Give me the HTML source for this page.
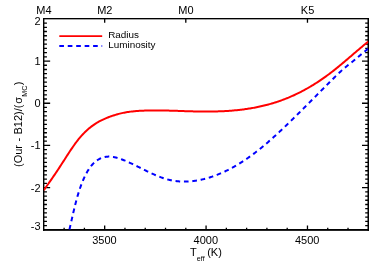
<!DOCTYPE html>
<html><head><meta charset="utf-8"><title>plot</title>
<style>
html,body{margin:0;padding:0;background:#fff;}
body{width:374px;height:267px;overflow:hidden;position:relative;}
svg{display:block;position:absolute;left:0;top:0;}
svg.t{filter:grayscale(1);}
text{font-family:"Liberation Sans",sans-serif;font-size:10px;fill:#000;}
</style></head><body>
<svg width="374" height="267" viewBox="0 0 374 267">
<defs><clipPath id="c"><rect x="43.85" y="18.85" width="324.45" height="210.95"/></clipPath></defs>
<rect width="374" height="267" fill="#fff"/>
<path d="M64.13,229.80V227.70M84.41,229.80V227.70M104.68,229.80V225.60M124.96,229.80V227.70M145.24,229.80V227.70M165.52,229.80V227.70M185.80,229.80V227.70M206.07,229.80V225.60M226.35,229.80V227.70M246.63,229.80V227.70M266.91,229.80V227.70M287.19,229.80V227.70M307.47,229.80V225.60M327.74,229.80V227.70M348.02,229.80V227.70M104.68,18.85V22.85M185.80,18.85V22.85M307.47,18.85V22.85M43.85,225.58H46.95M368.30,225.58H365.20M43.85,221.36H46.95M368.30,221.36H365.20M43.85,217.14H46.95M368.30,217.14H365.20M43.85,212.92H46.95M368.30,212.92H365.20M43.85,208.71H46.95M368.30,208.71H365.20M43.85,204.49H46.95M368.30,204.49H365.20M43.85,200.27H46.95M368.30,200.27H365.20M43.85,196.05H46.95M368.30,196.05H365.20M43.85,191.83H46.95M368.30,191.83H365.20M43.85,187.61H50.15M368.30,187.61H362.00M43.85,183.39H46.95M368.30,183.39H365.20M43.85,179.17H46.95M368.30,179.17H365.20M43.85,174.95H46.95M368.30,174.95H365.20M43.85,170.73H46.95M368.30,170.73H365.20M43.85,166.52H46.95M368.30,166.52H365.20M43.85,162.30H46.95M368.30,162.30H365.20M43.85,158.08H46.95M368.30,158.08H365.20M43.85,153.86H46.95M368.30,153.86H365.20M43.85,149.64H46.95M368.30,149.64H365.20M43.85,145.42H50.15M368.30,145.42H362.00M43.85,141.20H46.95M368.30,141.20H365.20M43.85,136.98H46.95M368.30,136.98H365.20M43.85,132.76H46.95M368.30,132.76H365.20M43.85,128.54H46.95M368.30,128.54H365.20M43.85,124.32H46.95M368.30,124.32H365.20M43.85,120.11H46.95M368.30,120.11H365.20M43.85,115.89H46.95M368.30,115.89H365.20M43.85,111.67H46.95M368.30,111.67H365.20M43.85,107.45H46.95M368.30,107.45H365.20M43.85,103.23H50.15M368.30,103.23H362.00M43.85,99.01H46.95M368.30,99.01H365.20M43.85,94.79H46.95M368.30,94.79H365.20M43.85,90.57H46.95M368.30,90.57H365.20M43.85,86.35H46.95M368.30,86.35H365.20M43.85,82.14H46.95M368.30,82.14H365.20M43.85,77.92H46.95M368.30,77.92H365.20M43.85,73.70H46.95M368.30,73.70H365.20M43.85,69.48H46.95M368.30,69.48H365.20M43.85,65.26H46.95M368.30,65.26H365.20M43.85,61.04H50.15M368.30,61.04H362.00M43.85,56.82H46.95M368.30,56.82H365.20M43.85,52.60H46.95M368.30,52.60H365.20M43.85,48.38H46.95M368.30,48.38H365.20M43.85,44.16H46.95M368.30,44.16H365.20M43.85,39.95H46.95M368.30,39.95H365.20M43.85,35.73H46.95M368.30,35.73H365.20M43.85,31.51H46.95M368.30,31.51H365.20M43.85,27.29H46.95M368.30,27.29H365.20M43.85,23.07H46.95M368.30,23.07H365.20" stroke="#000" stroke-width="1.3" fill="none"/>
<g fill="#000">
<rect x="43.0" y="18.0" width="326.0" height="1.35"/>
<rect x="43.0" y="229.0" width="326.0" height="1.85"/>
<rect x="43.0" y="18.0" width="1.4" height="212.85"/>
<rect x="367.5" y="18.0" width="1.5" height="212.85"/>
</g>
<g fill="none" stroke-linecap="butt" stroke-linejoin="round">
<g clip-path="url(#c)">
<path d="M43.85,190.08 L44.94,188.56 L46.02,187.04 L47.11,185.51 L48.19,183.97 L49.28,182.43 L50.36,180.88 L51.45,179.32 L52.53,177.75 L53.62,176.17 L54.70,174.57 L55.79,172.97 L56.87,171.35 L57.96,169.72 L59.04,168.08 L60.13,166.42 L61.21,164.75 L62.30,163.07 L63.38,161.38 L64.47,159.69 L65.55,158.00 L66.64,156.31 L67.72,154.63 L68.81,152.96 L69.89,151.31 L70.98,149.68 L72.06,148.08 L73.15,146.50 L74.23,144.96 L75.32,143.46 L76.40,141.99 L77.49,140.57 L78.57,139.20 L79.66,137.88 L80.74,136.61 L81.83,135.39 L82.91,134.22 L84.00,133.09 L85.08,132.01 L86.17,130.98 L87.25,129.98 L88.34,129.03 L89.42,128.11 L90.51,127.24 L91.60,126.40 L92.68,125.60 L93.77,124.83 L94.85,124.10 L95.94,123.40 L97.02,122.73 L98.11,122.09 L99.19,121.48 L100.28,120.90 L101.36,120.34 L102.45,119.81 L103.53,119.30 L104.62,118.81 L105.70,118.35 L106.79,117.90 L107.87,117.47 L108.96,117.06 L110.04,116.66 L111.13,116.28 L112.21,115.91 L113.30,115.55 L114.38,115.20 L115.47,114.86 L116.55,114.53 L117.64,114.21 L118.72,113.91 L119.81,113.62 L120.89,113.36 L121.98,113.11 L123.06,112.87 L124.15,112.65 L125.23,112.45 L126.32,112.26 L127.40,112.08 L128.49,111.92 L129.57,111.77 L130.66,111.63 L131.74,111.50 L132.83,111.39 L133.91,111.28 L135.00,111.18 L136.08,111.09 L137.17,111.01 L138.26,110.93 L139.34,110.86 L140.43,110.80 L141.51,110.74 L142.60,110.69 L143.68,110.64 L144.77,110.60 L145.85,110.56 L146.94,110.53 L148.02,110.50 L149.11,110.47 L150.19,110.45 L151.28,110.44 L152.36,110.42 L153.45,110.42 L154.53,110.41 L155.62,110.41 L156.70,110.41 L157.79,110.41 L158.87,110.42 L159.96,110.43 L161.04,110.45 L162.13,110.46 L163.21,110.48 L164.30,110.50 L165.38,110.52 L166.47,110.55 L167.55,110.58 L168.64,110.60 L169.72,110.63 L170.81,110.67 L171.89,110.70 L172.98,110.73 L174.06,110.77 L175.15,110.80 L176.23,110.84 L177.32,110.87 L178.40,110.91 L179.49,110.95 L180.57,110.99 L181.66,111.02 L182.74,111.06 L183.83,111.10 L184.92,111.13 L186.00,111.17 L187.09,111.20 L188.17,111.24 L189.26,111.27 L190.34,111.30 L191.43,111.33 L192.51,111.36 L193.60,111.39 L194.68,111.42 L195.77,111.44 L196.85,111.46 L197.94,111.48 L199.02,111.50 L200.11,111.51 L201.19,111.53 L202.28,111.54 L203.36,111.55 L204.45,111.55 L205.53,111.56 L206.62,111.56 L207.70,111.56 L208.79,111.55 L209.87,111.54 L210.96,111.53 L212.04,111.52 L213.13,111.50 L214.21,111.48 L215.30,111.46 L216.38,111.43 L217.47,111.40 L218.55,111.37 L219.64,111.33 L220.72,111.29 L221.81,111.25 L222.89,111.20 L223.98,111.14 L225.06,111.09 L226.15,111.02 L227.23,110.96 L228.32,110.89 L229.41,110.81 L230.49,110.73 L231.58,110.65 L232.66,110.56 L233.75,110.47 L234.83,110.37 L235.92,110.27 L237.00,110.16 L238.09,110.05 L239.17,109.93 L240.26,109.80 L241.34,109.67 L242.43,109.54 L243.51,109.40 L244.60,109.25 L245.68,109.10 L246.77,108.94 L247.85,108.78 L248.94,108.61 L250.02,108.44 L251.11,108.26 L252.19,108.07 L253.28,107.87 L254.36,107.67 L255.45,107.47 L256.53,107.25 L257.62,107.03 L258.70,106.81 L259.79,106.57 L260.87,106.33 L261.96,106.08 L263.04,105.83 L264.13,105.57 L265.21,105.30 L266.30,105.02 L267.38,104.74 L268.47,104.44 L269.55,104.15 L270.64,103.84 L271.72,103.52 L272.81,103.20 L273.89,102.87 L274.98,102.53 L276.07,102.19 L277.15,101.83 L278.24,101.47 L279.32,101.10 L280.41,100.72 L281.49,100.33 L282.58,99.93 L283.66,99.53 L284.75,99.11 L285.83,98.69 L286.92,98.26 L288.00,97.81 L289.09,97.36 L290.17,96.90 L291.26,96.44 L292.34,95.96 L293.43,95.47 L294.51,94.97 L295.60,94.46 L296.68,93.95 L297.77,93.42 L298.85,92.89 L299.94,92.34 L301.02,91.78 L302.11,91.22 L303.19,90.65 L304.28,90.06 L305.36,89.47 L306.45,88.86 L307.53,88.25 L308.62,87.63 L309.70,87.00 L310.79,86.35 L311.87,85.70 L312.96,85.04 L314.04,84.37 L315.13,83.69 L316.21,83.00 L317.30,82.30 L318.38,81.59 L319.47,80.87 L320.55,80.14 L321.64,79.40 L322.73,78.65 L323.81,77.89 L324.90,77.12 L325.98,76.34 L327.07,75.55 L328.15,74.75 L329.24,73.94 L330.32,73.13 L331.41,72.30 L332.49,71.46 L333.58,70.61 L334.66,69.75 L335.75,68.89 L336.83,68.01 L337.92,67.13 L339.00,66.24 L340.09,65.35 L341.17,64.45 L342.26,63.54 L343.34,62.63 L344.43,61.71 L345.51,60.79 L346.60,59.87 L347.68,58.95 L348.77,58.02 L349.85,57.09 L350.94,56.16 L352.02,55.22 L353.11,54.29 L354.19,53.36 L355.28,52.43 L356.36,51.50 L357.45,50.57 L358.53,49.65 L359.62,48.73 L360.70,47.81 L361.79,46.89 L362.87,45.98 L363.96,45.08 L365.04,44.18 L366.13,43.29 L367.21,42.40 L368.30,41.52" stroke="#ff0000" stroke-width="2"/>
<path d="M68.60,233.09 L69.20,230.57 L69.80,228.00 L70.40,225.40 L71.00,222.76 L71.60,220.12 L72.20,217.48 L72.80,214.85 L73.40,212.25 L74.01,209.69 L74.61,207.19 L75.21,204.75 L75.81,202.39 L76.41,200.12 L77.01,197.94 L77.61,195.85 L78.21,193.84 L78.81,191.91 L79.41,190.05 L80.01,188.27 L80.61,186.57 L81.21,184.93 L81.81,183.36 L82.41,181.85 L83.01,180.40 L83.62,179.02 L84.22,177.69 L84.82,176.41 L85.42,175.19 L86.02,174.03 L86.62,172.91 L87.22,171.84 L87.82,170.83 L88.42,169.86 L89.02,168.93 L89.62,168.05 L90.22,167.22 L90.82,166.43 L91.42,165.67 L92.02,164.96 L92.62,164.29 L93.22,163.65 L93.83,163.05 L94.43,162.48 L95.03,161.95 L95.63,161.45 L96.23,160.98 L96.83,160.54 L97.43,160.13 L98.03,159.74 L98.63,159.38 L99.23,159.04 L99.83,158.73 L100.43,158.44 L101.03,158.18 L101.63,157.93 L102.23,157.71 L102.83,157.51 L103.43,157.33 L104.04,157.18 L104.64,157.04 L105.24,156.92 L105.84,156.82 L106.44,156.74 L107.04,156.68 L107.64,156.63 L108.24,156.60 L108.84,156.59 L109.44,156.60 L110.04,156.62 L110.64,156.65 L111.24,156.70 L111.84,156.76 L112.44,156.84 L113.04,156.93 L113.65,157.03 L114.25,157.15 L114.85,157.27 L115.45,157.41 L116.05,157.56 L116.65,157.71 L117.25,157.88 L117.85,158.06 L118.45,158.24 L119.05,158.43 L119.65,158.63 L120.25,158.84 L120.85,159.05 L121.45,159.27 L122.05,159.50 L122.65,159.73 L123.25,159.96 L123.86,160.20 L124.46,160.45 L125.06,160.69 L125.66,160.94 L126.26,161.20 L126.86,161.46 L127.46,161.72 L128.06,161.98 L128.66,162.25 L129.26,162.52 L129.86,162.80 L130.46,163.07 L131.06,163.35 L131.66,163.63 L132.26,163.92 L132.86,164.20 L133.46,164.49 L134.07,164.78 L134.67,165.07 L135.27,165.37 L135.87,165.66 L136.47,165.96 L137.07,166.25 L137.67,166.55 L138.27,166.85 L138.87,167.15 L139.47,167.45 L140.07,167.75 L140.67,168.05 L141.27,168.35 L141.87,168.65 L142.47,168.95 L143.07,169.25 L143.68,169.55 L144.28,169.85 L144.88,170.15 L145.48,170.45 L146.08,170.74 L146.68,171.04 L147.28,171.33 L147.88,171.62 L148.48,171.91 L149.08,172.20 L149.68,172.49 L150.28,172.77 L150.88,173.06 L151.48,173.34 L152.08,173.61 L152.68,173.89 L153.28,174.16 L153.89,174.43 L154.49,174.70 L155.09,174.96 L155.69,175.22 L156.29,175.47 L156.89,175.73 L157.49,175.98 L158.09,176.22 L158.69,176.46 L159.29,176.70 L159.89,176.93 L160.49,177.16 L161.09,177.38 L161.69,177.60 L162.29,177.81 L162.89,178.02 L163.49,178.22 L164.10,178.42 L164.70,178.61 L165.30,178.80 L165.90,178.98 L166.50,179.15 L167.10,179.32 L167.70,179.48 L168.30,179.64 L168.90,179.78 L169.50,179.93 L170.10,180.06 L170.70,180.20 L171.30,180.32 L171.90,180.44 L172.50,180.55 L173.10,180.66 L173.71,180.76 L174.31,180.85 L174.91,180.94 L175.51,181.03 L176.11,181.10 L176.71,181.17 L177.31,181.24 L177.91,181.30 L178.51,181.36 L179.11,181.41 L179.71,181.45 L180.31,181.49 L180.91,181.52 L181.51,181.55 L182.11,181.57 L182.71,181.59 L183.31,181.60 L183.92,181.60 L184.52,181.60 L185.12,181.60 L185.72,181.59 L186.32,181.57 L186.92,181.55 L187.52,181.53 L188.12,181.50 L188.72,181.47 L189.32,181.43 L189.92,181.38 L190.52,181.33 L191.12,181.28 L191.72,181.22 L192.32,181.16 L192.92,181.09 L193.53,181.01 L194.13,180.94 L194.73,180.86 L195.33,180.77 L195.93,180.68 L196.53,180.58 L197.13,180.48 L197.73,180.38 L198.33,180.27 L198.93,180.16 L199.53,180.04 L200.13,179.92 L200.73,179.79 L201.33,179.66 L201.93,179.53 L202.53,179.39 L203.13,179.25 L203.74,179.11 L204.34,178.96 L204.94,178.80 L205.54,178.64 L206.14,178.48 L206.74,178.32 L207.34,178.15 L207.94,177.97 L208.54,177.80 L209.14,177.62 L209.74,177.43 L210.34,177.24 L210.94,177.05 L211.54,176.85 L212.14,176.65 L212.74,176.45 L213.34,176.24 L213.95,176.02 L214.55,175.81 L215.15,175.59 L215.75,175.36 L216.35,175.14 L216.95,174.90 L217.55,174.67 L218.15,174.43 L218.75,174.19 L219.35,173.94 L219.95,173.69 L220.55,173.43 L221.15,173.18 L221.75,172.91 L222.35,172.65 L222.95,172.38 L223.56,172.10 L224.16,171.83 L224.76,171.55 L225.36,171.26 L225.96,170.97 L226.56,170.68 L227.16,170.39 L227.76,170.09 L228.36,169.78 L228.96,169.48 L229.56,169.17 L230.16,168.85 L230.76,168.54 L231.36,168.21 L231.96,167.89 L232.56,167.56 L233.16,167.23 L233.77,166.89 L234.37,166.55 L234.97,166.21 L235.57,165.87 L236.17,165.52 L236.77,165.16 L237.37,164.81 L237.97,164.44 L238.57,164.08 L239.17,163.71 L239.77,163.34 L240.37,162.97 L240.97,162.59 L241.57,162.21 L242.17,161.82 L242.77,161.43 L243.37,161.04 L243.98,160.65 L244.58,160.25 L245.18,159.84 L245.78,159.44 L246.38,159.03 L246.98,158.62 L247.58,158.20 L248.18,157.78 L248.78,157.36 L249.38,156.93 L249.98,156.50 L250.58,156.07 L251.18,155.63 L251.78,155.19 L252.38,154.75 L252.98,154.30 L253.59,153.85 L254.19,153.40 L254.79,152.94 L255.39,152.49 L255.99,152.02 L256.59,151.56 L257.19,151.09 L257.79,150.61 L258.39,150.14 L258.99,149.66 L259.59,149.18 L260.19,148.70 L260.79,148.21 L261.39,147.72 L261.99,147.22 L262.59,146.73 L263.19,146.23 L263.80,145.73 L264.40,145.22 L265.00,144.72 L265.60,144.21 L266.20,143.70 L266.80,143.18 L267.40,142.66 L268.00,142.14 L268.60,141.62 L269.20,141.10 L269.80,140.57 L270.40,140.04 L271.00,139.51 L271.60,138.98 L272.20,138.44 L272.80,137.90 L273.41,137.36 L274.01,136.82 L274.61,136.28 L275.21,135.73 L275.81,135.18 L276.41,134.63 L277.01,134.08 L277.61,133.53 L278.21,132.97 L278.81,132.42 L279.41,131.86 L280.01,131.30 L280.61,130.73 L281.21,130.17 L281.81,129.60 L282.41,129.04 L283.01,128.47 L283.62,127.90 L284.22,127.33 L284.82,126.75 L285.42,126.18 L286.02,125.60 L286.62,125.03 L287.22,124.45 L287.82,123.87 L288.42,123.29 L289.02,122.71 L289.62,122.12 L290.22,121.54 L290.82,120.96 L291.42,120.37 L292.02,119.78 L292.62,119.20 L293.22,118.61 L293.83,118.02 L294.43,117.43 L295.03,116.84 L295.63,116.25 L296.23,115.65 L296.83,115.06 L297.43,114.47 L298.03,113.87 L298.63,113.28 L299.23,112.68 L299.83,112.09 L300.43,111.49 L301.03,110.89 L301.63,110.29 L302.23,109.69 L302.83,109.09 L303.44,108.50 L304.04,107.90 L304.64,107.29 L305.24,106.69 L305.84,106.09 L306.44,105.49 L307.04,104.89 L307.64,104.29 L308.24,103.68 L308.84,103.08 L309.44,102.48 L310.04,101.87 L310.64,101.27 L311.24,100.67 L311.84,100.06 L312.44,99.46 L313.04,98.86 L313.65,98.25 L314.25,97.65 L314.85,97.04 L315.45,96.44 L316.05,95.83 L316.65,95.23 L317.25,94.63 L317.85,94.02 L318.45,93.42 L319.05,92.81 L319.65,92.21 L320.25,91.61 L320.85,91.00 L321.45,90.40 L322.05,89.80 L322.65,89.19 L323.25,88.59 L323.86,87.99 L324.46,87.39 L325.06,86.78 L325.66,86.18 L326.26,85.58 L326.86,84.98 L327.46,84.38 L328.06,83.78 L328.66,83.18 L329.26,82.58 L329.86,81.99 L330.46,81.39 L331.06,80.79 L331.66,80.20 L332.26,79.60 L332.86,79.00 L333.47,78.41 L334.07,77.82 L334.67,77.22 L335.27,76.63 L335.87,76.04 L336.47,75.45 L337.07,74.87 L337.67,74.28 L338.27,73.70 L338.87,73.13 L339.47,72.56 L340.07,71.99 L340.67,71.43 L341.27,70.87 L341.87,70.32 L342.47,69.77 L343.07,69.23 L343.68,68.70 L344.28,68.17 L344.88,67.66 L345.48,67.15 L346.08,66.65 L346.68,66.15 L347.28,65.67 L347.88,65.19 L348.48,64.72 L349.08,64.26 L349.68,63.80 L350.28,63.34 L350.88,62.87 L351.48,62.41 L352.08,61.94 L352.68,61.47 L353.28,60.99 L353.89,60.51 L354.49,60.02 L355.09,59.52 L355.69,59.02 L356.29,58.52 L356.89,58.01 L357.49,57.50 L358.09,56.99 L358.69,56.48 L359.29,55.96 L359.89,55.45 L360.49,54.94 L361.09,54.42 L361.69,53.91 L362.29,53.41 L362.89,52.90 L363.50,52.40 L364.10,51.91 L364.70,51.42 L365.30,50.93 L365.90,50.45 L366.50,49.98 L367.10,49.52 L367.70,49.06 L368.30,48.62" stroke="#0000ff" stroke-width="2" stroke-dasharray="4.65 3.765" stroke-dashoffset="4.76"/>
</g>
<path d="M59.3,36.15H102.2" stroke="#ff0000" stroke-width="1.9"/>
<path d="M59.3,46.1H102.2" stroke="#0000ff" stroke-width="2" stroke-dasharray="4.65 3.8"/>
</g>
</svg>
<svg class="t" width="374" height="267" viewBox="0 0 374 267">
<text transform="translate(40.60,25.05) scale(1.1,1)" text-anchor="end">2</text>
<text transform="translate(40.60,64.94) scale(1.1,1)" text-anchor="end">1</text>
<text transform="translate(40.60,107.13) scale(1.1,1)" text-anchor="end">0</text>
<text transform="translate(40.60,149.32) scale(1.1,1)" text-anchor="end">-1</text>
<text transform="translate(40.60,191.51) scale(1.1,1)" text-anchor="end">-2</text>
<text transform="translate(40.60,230.10) scale(1.1,1)" text-anchor="end">-3</text>
<text transform="translate(104.38,243.90) scale(1.1,1)" text-anchor="middle">3500</text>
<text transform="translate(205.77,243.90) scale(1.1,1)" text-anchor="middle">4000</text>
<text transform="translate(307.17,243.90) scale(1.1,1)" text-anchor="middle">4500</text>
<text transform="translate(43.95,13.60) scale(1.1,1)" text-anchor="middle">M4</text>
<text transform="translate(104.78,13.60) scale(1.1,1)" text-anchor="middle">M2</text>
<text transform="translate(185.90,13.60) scale(1.1,1)" text-anchor="middle">M0</text>
<text transform="translate(307.57,13.60) scale(1.1,1)" text-anchor="middle">K5</text>
<text transform="translate(108.20,38.30) scale(1.1,1)" style="font-size:9px">Radius</text>
<text transform="translate(108.20,47.80) scale(1.1,1)" style="font-size:9px">Luminosity</text>
<text transform="translate(189.90,255.60) scale(1.1,1)">T<tspan font-size="6.5" dy="5" dx="0.2">eff</tspan><tspan dy="-5" dx="-0.45"> (K)</tspan></text>
<text transform="translate(22.1,167.0) rotate(-90) scale(1.1,1)" style="word-spacing:0.35px">(Our - B12)/(<tspan dx="0.7">σ</tspan><tspan font-size="6.5" dy="5.3" dx="0.3">MC</tspan><tspan dy="-5.3" dx="0.3">)</tspan></text>
</svg>
</body></html>
